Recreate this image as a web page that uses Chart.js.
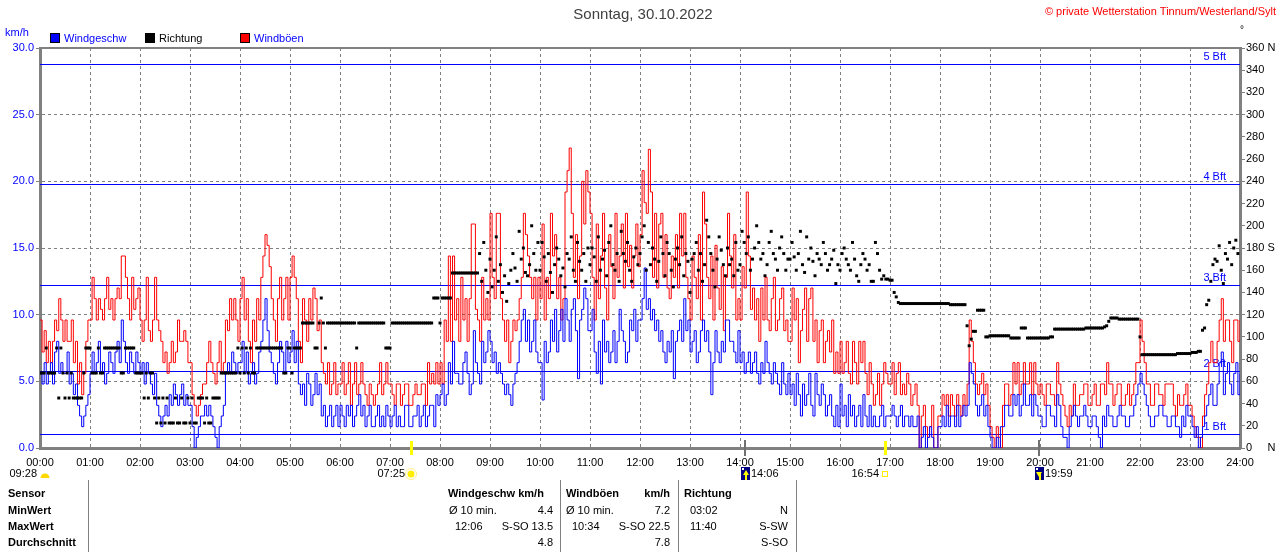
<!DOCTYPE html>
<html><head><meta charset="utf-8">
<script src="https://cdn.jsdelivr.net/npm/chart.js@4"></script>
<style>
html,body{margin:0;padding:0;background:#fff;}
#wrap{position:relative;width:1280px;height:552px;overflow:hidden;}
canvas{position:absolute;left:0;top:0;}
.t{position:absolute;font:11px 'Liberation Sans',Arial,sans-serif;color:#000;white-space:nowrap;line-height:13px;}
.b{font-weight:bold;}
.r{text-align:right;}
.vl{position:absolute;width:1px;background:#808080;top:480px;height:72px;}
</style></head><body>
<div id="wrap"><canvas id="c" width="1280" height="552"></canvas>
<div class="vl" style="left:88px"></div><div class="vl" style="left:560px"></div><div class="vl" style="left:678px"></div><div class="vl" style="left:796px"></div>
<div class="t b" style="left:8px;top:487px">Sensor</div>
<div class="t b" style="left:8px;top:504px">MinWert</div>
<div class="t b" style="left:8px;top:520px">MaxWert</div>
<div class="t b" style="left:8px;top:536px">Durchschnitt</div>
<div class="t b" style="left:448px;top:487px">Windgeschw km/h</div>
<div class="t" style="left:449px;top:504px">Ø 10 min.</div>
<div class="t r" style="left:503px;width:50px;top:504px">4.4</div>
<div class="t" style="left:455px;top:520px">12:06</div>
<div class="t r" style="left:483px;width:70px;top:520px">S-SO 13.5</div>
<div class="t r" style="left:503px;width:50px;top:536px">4.8</div>
<div class="t b" style="left:566px;top:487px">Windböen</div>
<div class="t b r" style="left:620px;width:50px;top:487px">km/h</div>
<div class="t" style="left:566px;top:504px">Ø 10 min.</div>
<div class="t r" style="left:620px;width:50px;top:504px">7.2</div>
<div class="t" style="left:572px;top:520px">10:34</div>
<div class="t r" style="left:600px;width:70px;top:520px">S-SO 22.5</div>
<div class="t r" style="left:620px;width:50px;top:536px">7.8</div>
<div class="t b" style="left:684px;top:487px">Richtung</div>
<div class="t" style="left:690px;top:504px">03:02</div>
<div class="t r" style="left:738px;width:50px;top:504px">N</div>
<div class="t" style="left:690px;top:520px">11:40</div>
<div class="t r" style="left:738px;width:50px;top:520px">S-SW</div>
<div class="t r" style="left:738px;width:50px;top:536px">S-SO</div>
</div>
<script>
// ---- data: 2.5-minute values, 00:00 .. 24:00 (one row per hour) ----
const gust = [
9.6,7.2,8.8,6.4,8.0,6.4,8.0,9.6,8.8,11.2,9.6,8.0,9.6,8.0,8.0,9.6,6.4,8.0,4.8,6.4,4.0,5.6,8.0,9.6,
9.6,12.8,11.2,9.6,11.2,10.4,9.6,11.2,12.8,10.4,11.2,9.6,11.2,12.0,11.2,14.4,14.4,12.8,11.2,9.6,12.8,10.4,11.2,12.0,
9.6,8.0,9.6,12.8,8.8,8.0,9.6,12.8,9.6,8.8,8.0,6.4,7.2,5.6,6.4,8.0,6.4,7.2,9.6,8.0,8.0,8.8,8.0,6.4,
6.4,4.0,3.2,2.4,3.2,4.0,4.8,4.8,6.4,8.0,6.4,5.6,4.8,6.4,8.0,5.6,6.4,9.6,8.8,11.2,9.6,11.2,9.6,8.0,
11.2,12.8,9.6,11.2,8.0,6.4,9.6,8.0,11.2,9.6,12.8,14.4,16.0,15.2,13.6,11.2,9.6,8.0,11.2,12.8,9.6,11.2,12.8,9.6,
12.8,14.4,12.8,11.2,8.0,6.4,11.2,9.6,8.0,11.2,9.6,12.0,11.2,8.8,9.6,6.4,5.6,4.8,6.4,4.0,4.8,6.4,4.0,4.8,
4.8,6.4,4.0,4.8,6.4,3.2,4.8,6.4,4.0,4.8,6.4,4.8,4.0,3.2,4.8,4.0,3.2,4.0,4.8,6.4,4.0,4.8,6.4,4.8,
4.8,4.0,3.2,4.8,4.8,3.2,4.0,4.8,4.8,3.2,3.2,4.0,4.8,4.0,4.0,4.8,4.8,3.2,6.4,4.8,5.6,4.8,6.4,4.8,
6.4,4.8,9.6,8.0,14.4,8.0,14.4,9.6,11.2,8.0,12.8,9.6,11.2,8.0,11.2,16.8,16.8,10.4,9.6,8.0,12.8,9.6,11.2,9.6,
17.6,12.8,11.2,17.6,17.6,11.2,9.6,8.0,9.6,6.4,8.0,9.6,8.8,9.6,11.2,12.8,17.6,16.0,14.4,12.8,11.2,12.8,9.6,12.8,
11.2,16.8,9.6,12.8,11.2,17.6,14.4,16.0,11.2,12.8,9.6,11.2,19.2,20.8,22.5,17.6,12.8,16.0,11.2,14.4,20.0,16.8,20.8,19.2,
17.6,12.8,9.6,16.8,11.2,14.4,17.6,12.0,9.6,16.0,13.6,11.2,17.6,12.8,14.4,16.8,12.0,17.6,13.6,15.2,12.0,14.4,16.8,13.6,
16.0,20.8,18.4,17.6,22.4,19.2,12.8,17.6,12.0,16.8,17.6,12.8,16.0,12.0,11.2,14.4,12.8,16.0,12.0,17.6,14.4,17.6,12.8,11.2,
9.6,14.4,12.8,11.2,16.0,9.6,19.2,16.8,12.8,11.2,14.4,9.6,15.2,12.0,10.4,13.6,8.8,12.8,17.6,14.4,12.0,16.0,9.6,11.2,
9.6,13.6,12.0,19.2,14.4,10.4,12.0,9.6,11.2,8.0,12.0,9.6,12.8,9.6,8.8,11.2,12.8,8.8,9.6,11.2,12.0,8.8,9.6,8.0,
8.0,12.0,9.6,11.2,6.4,8.8,10.4,12.0,8.0,11.2,12.0,8.0,9.6,6.4,8.8,9.6,6.4,8.0,8.8,7.2,9.6,5.6,7.2,5.6,
8.0,5.6,6.4,8.0,5.6,4.8,8.0,6.4,4.8,8.0,6.4,8.0,5.6,4.0,6.4,4.8,3.2,4.0,5.6,3.2,4.8,6.4,5.6,4.8,
4.8,6.4,4.0,5.6,6.4,4.0,4.8,4.0,5.6,4.8,3.2,4.0,4.8,3.2,0.0,2.4,3.2,1.6,0.8,1.6,3.2,0.0,0.0,2.4,
2.4,4.0,3.2,4.0,2.4,4.0,3.2,2.4,4.0,3.2,2.4,4.0,3.2,4.8,9.6,8.0,6.4,4.8,4.0,4.8,5.6,4.0,4.8,3.2,
1.6,0.8,0.0,1.6,0.8,0.0,3.2,4.8,4.8,3.2,4.0,6.4,4.8,6.4,4.0,4.8,6.4,4.8,4.8,6.4,4.0,6.4,4.8,4.0,
4.8,4.0,3.2,4.8,4.8,4.0,4.0,3.2,6.4,4.8,4.0,3.2,2.4,1.6,3.2,2.4,4.8,3.2,3.2,4.0,4.0,4.8,4.8,3.2,
3.2,4.0,4.8,3.2,3.2,4.8,4.8,4.0,6.4,4.8,4.8,3.2,4.0,4.8,4.8,3.2,3.2,4.0,4.8,3.2,4.0,4.8,6.4,6.4,
9.6,8.0,6.4,4.8,4.8,3.2,3.2,4.8,4.8,4.0,4.0,3.2,4.8,4.8,4.8,4.8,3.2,2.4,4.0,3.2,3.2,4.0,4.8,3.2,
3.2,2.4,1.6,0.8,0.8,0.0,2.4,4.0,4.8,6.4,8.0,6.4,6.4,8.0,9.6,11.2,8.0,9.6,9.6,8.0,6.4,9.6,9.6,8.0,
9.6];
const speed = [
5.6,4.8,6.4,4.8,5.6,6.4,4.8,7.2,8.0,5.6,6.4,5.6,5.6,7.2,4.8,5.6,4.0,4.8,3.2,2.4,1.6,2.4,3.2,4.0,
5.6,7.2,5.6,6.4,8.0,5.6,6.4,4.8,5.6,7.2,6.4,5.6,7.2,8.0,6.4,9.6,8.0,6.4,5.6,7.2,6.4,5.6,7.2,6.4,
5.6,6.4,4.8,6.4,5.6,4.8,4.0,5.6,3.2,2.4,1.6,2.4,3.2,2.4,4.0,3.2,4.8,4.0,3.2,4.0,4.8,3.2,4.0,3.2,
3.2,1.6,0.0,0.8,1.6,2.4,2.4,3.2,2.4,3.2,2.4,1.6,0.8,0.0,1.6,2.4,3.2,5.6,6.4,5.6,7.2,6.4,5.6,6.4,
6.4,8.0,5.6,7.2,4.8,5.6,6.4,4.8,5.6,7.2,8.0,9.6,11.2,8.8,7.2,6.4,5.6,4.8,6.4,8.0,7.2,5.6,8.0,6.4,
7.2,8.8,6.4,8.0,4.8,4.0,4.8,3.2,5.6,4.8,3.2,4.0,5.6,4.0,4.8,2.4,3.2,1.6,2.4,3.2,1.6,2.4,3.2,1.6,
3.2,2.4,1.6,3.2,2.4,3.2,1.6,2.4,3.2,4.0,2.4,3.2,1.6,2.4,3.2,1.6,1.6,2.4,3.2,1.6,2.4,1.6,3.2,2.4,
1.6,2.4,3.2,1.6,2.4,1.6,1.6,3.2,3.2,1.6,1.6,2.4,2.4,3.2,1.6,2.4,3.2,1.6,2.4,3.2,3.2,1.6,4.0,3.2,
4.0,4.8,3.2,4.0,6.4,4.8,8.0,5.6,5.6,4.8,4.8,6.4,7.2,5.6,4.0,4.8,8.8,6.4,5.6,4.8,8.0,6.4,7.2,8.8,
8.0,6.4,7.2,5.6,6.4,5.6,4.8,4.0,4.8,4.0,3.2,4.8,5.6,6.4,8.0,9.6,10.4,8.0,9.6,7.2,8.0,9.6,7.2,6.4,
6.4,3.6,8.0,6.4,7.2,9.6,8.0,10.4,7.2,8.8,10.4,8.0,11.2,9.6,8.0,10.4,11.2,8.8,5.2,9.6,10.4,12.0,11.2,8.8,
8.8,10.4,7.2,5.6,8.0,4.8,9.6,7.2,8.0,6.4,7.2,8.8,6.4,8.0,10.4,8.8,8.0,6.4,7.2,9.6,8.8,10.4,8.0,9.6,
9.6,11.2,13.5,10.4,11.2,9.6,10.4,8.8,9.6,8.0,8.8,7.2,6.4,8.0,7.2,8.8,5.2,8.0,8.8,9.6,8.0,11.2,8.8,9.6,
7.2,8.0,8.8,6.4,7.2,8.8,9.6,8.0,8.8,7.2,4.0,6.4,8.8,7.2,6.4,8.0,7.2,9.6,9.6,8.0,8.0,7.2,6.4,8.8,
6.4,7.2,5.6,6.4,7.2,5.6,6.4,7.2,5.6,4.8,6.4,5.6,8.0,6.4,5.6,4.8,6.4,5.6,4.8,4.0,6.4,4.8,4.0,5.6,
4.0,4.8,3.2,5.6,4.0,2.4,4.8,3.2,4.0,5.6,3.2,2.4,5.6,4.0,3.2,4.8,4.0,2.4,3.2,4.0,2.4,1.6,3.2,1.6,
4.8,2.4,3.2,1.6,4.0,2.4,3.2,1.6,2.4,3.2,1.6,4.0,2.4,1.6,3.2,1.6,2.4,1.6,1.6,2.4,3.2,1.6,2.4,2.4,
2.4,3.2,2.4,1.6,2.4,3.2,1.6,2.4,2.4,1.6,2.4,1.6,1.6,2.4,0.0,0.8,1.6,0.0,0.8,1.6,0.8,0.0,0.0,1.6,
1.6,2.4,1.6,3.2,1.6,2.4,2.4,1.6,3.2,1.6,2.4,3.2,2.4,3.2,6.4,5.6,4.8,3.2,2.4,3.2,4.0,2.4,3.2,1.6,
0.8,0.0,0.0,0.8,0.0,1.6,1.6,3.2,3.2,2.4,2.4,4.0,3.2,4.0,2.4,3.2,4.8,3.2,3.2,4.0,2.4,4.0,3.2,2.4,
2.4,1.6,1.6,3.2,3.2,2.4,2.4,1.6,4.0,3.2,1.6,0.8,0.8,0.0,1.6,2.4,3.2,2.4,1.6,2.4,2.4,3.2,2.4,1.6,
1.6,2.4,2.4,1.6,0.8,0.0,2.4,1.6,3.2,2.4,2.4,1.6,1.6,2.4,3.2,2.4,2.4,1.6,1.6,2.4,2.4,3.2,4.0,4.8,
5.6,4.8,4.0,3.2,2.4,1.6,1.6,2.4,2.4,3.2,3.2,2.4,2.4,1.6,1.6,2.4,2.4,1.6,1.6,0.8,2.4,1.6,3.2,2.4,
2.4,1.6,0.8,1.6,0.0,0.8,1.6,2.4,3.2,4.0,4.8,3.2,3.2,4.8,6.4,7.2,4.0,5.6,6.4,4.8,4.0,5.6,6.4,4.0,
5.6];
const direction = [
67.5,67.5,67.5,90,67.5,67.5,67.5,67.5,90,45,90,67.5,45,67.5,45,67.5,45,45,45,45,45,67.5,90,90,
90,67.5,67.5,67.5,90,67.5,67.5,90,90,90,90,90,90,90,90,67.5,67.5,90,90,90,90,90,67.5,67.5,
67.5,67.5,45,67.5,45,67.5,67.5,45,22.5,45,22.5,45,22.5,45,22.5,22.5,22.5,45,22.5,22.5,45,22.5,22.5,45,
22.5,45,22.5,22.5,45,45,45,22.5,45,22.5,22.5,45,45,45,45,67.5,67.5,67.5,67.5,67.5,67.5,67.5,67.5,90,
67.5,90,67.5,90,67.5,90,67.5,67.5,90,90,90,90,90,90,90,90,90,90,90,90,90,67.5,67.5,90,
90,67.5,90,90,90,90,112.5,112.5,112.5,112.5,112.5,112.5,90,90,112.5,135,112.5,90,112.5,112.5,112.5,112.5,112.5,112.5,
112.5,112.5,112.5,112.5,112.5,112.5,112.5,112.5,90,112.5,112.5,112.5,112.5,112.5,112.5,112.5,112.5,112.5,112.5,112.5,112.5,112.5,90,90,
90,112.5,112.5,112.5,112.5,112.5,112.5,112.5,112.5,112.5,112.5,112.5,112.5,112.5,112.5,112.5,112.5,112.5,112.5,112.5,112.5,135,135,135,
112.5,135,135,135,135,135,157.5,157.5,157.5,157.5,157.5,157.5,157.5,157.5,157.5,157.5,157.5,157.5,157.5,175,150,185,160,140,
170,145,160,190,150,165,140,155,132,148,160,175,162,150,195,170,180,158,155,165,200,175,160,185,
160,185,172,150,175,158,140,165,180,170,155,162,145,175,170,190,160,150,185,168,160,175,150,180,
165,180,172,150,190,160,170,178,155,185,200,165,160,175,150,195,175,168,185,160,150,172,180,165,
175,190,200,160,185,165,180,170,150,168,190,175,155,185,175,160,145,170,180,165,190,155,175,168,
140,170,175,185,160,175,150,165,205,190,175,160,145,170,190,178,165,155,180,165,170,155,185,160,
165,195,185,175,190,160,170,180,200,185,170,175,155,165,185,195,175,170,160,180,190,175,160,170,
170,185,172,160,175,195,165,158,190,170,180,168,155,175,170,165,185,175,160,165,170,178,148,165,
160,175,180,170,165,160,185,170,155,150,165,175,170,160,165,150,150,185,175,160,152,155,152,152,
151,151,140,136,131,130,130,130,130,130,130,130,130,130,130,130,130,130,130,130,130,130,130,130,
130,130,130,130,130,129,129,129,129,129,129,129,129,110,92,98,105,105,124,124,124,124,100,100,
101,101,101,101,101,101,101,101,101,101,99,99,99,99,99,108,108,108,99,99,99,99,99,99,
99,99,99,99,99,100,100,107,107,107,107,107,107,107,107,107,107,107,107,107,107,107,108,108,
108,108,108,108,108,108,108,109,110,114,117,117,117,117,116,116,116,116,116,116,116,116,116,116,
100,84,84,84,84,84,84,84,84,84,84,84,84,84,84,84,84,84,85,85,85,85,85,85,
85,86,86,86,87,87,106,108,129,133,150,165,170,168,182,160,148,175,170,185,165,180,187,175,
null];
const minutes = gust.map((_, i) => i * 2.5);
const hourTicks = ['00:00','01:00','02:00','03:00','04:00','05:00','06:00','07:00','08:00','09:00','10:00','11:00','12:00',
  '13:00','14:00','15:00','16:00','17:00','18:00','19:00','20:00','21:00','22:00','23:00','24:00'];
const bftLevels = [1.08, 5.76, 12.24, 19.8, 28.8];
const bftNames = ['1 Bft','2 Bft','3 Bft','4 Bft','5 Bft'];
const dirLabels = {360:'360 N', 180:'180 S', 0:'0     N'};
const astroTimes = [0, 445, 846, 1014, 1199];
const astroLabels = ['09:28','07:25','14:06','16:54','19:59'];
const astroKinds = ['moonTop','sunrise','moonrise','sunset','moonset'];

const FONT = "'Liberation Sans', Arial, sans-serif";

const overlay = {
  id: 'overlay',
  beforeDatasetsDraw(chart) {
    const {ctx, chartArea: a, scales: {y}} = chart;
    ctx.save();
    ctx.strokeStyle = '#0000ff'; ctx.lineWidth = 1;
    ctx.fillStyle = '#0000ff'; ctx.font = '11px ' + FONT;
    ctx.textAlign = 'right'; ctx.textBaseline = 'bottom';
    bftLevels.forEach((v, i) => {
      const py = Math.round(y.getPixelForValue(v)) + 0.5;
      ctx.beginPath(); ctx.moveTo(a.left, py); ctx.lineTo(a.right, py); ctx.stroke();
      ctx.fillText(bftNames[i], a.right - 14, py - 2);
    });
    ctx.restore();
  },
  afterDraw(chart) {
    const {ctx, chartArea: a, scales: {x}} = chart;
    ctx.save();
    ctx.strokeStyle = '#808080'; ctx.lineWidth = 2;
    ctx.beginPath(); ctx.moveTo(a.left, a.top); ctx.lineTo(a.right + 1, a.top); ctx.stroke();
    ctx.textBaseline = 'middle';
    ctx.fillStyle = '#404040'; ctx.font = '15px ' + FONT; ctx.textAlign = 'center';
    ctx.fillText('Sonntag, 30.10.2022', 643, 15);
    ctx.fillStyle = '#ff0000'; ctx.font = '11px ' + FONT; ctx.textAlign = 'right';
    ctx.fillText('© private Wetterstation Tinnum/Westerland/Sylt', 1276, 12);
    ctx.fillStyle = '#000'; ctx.textAlign = 'left'; ctx.font = '10px ' + FONT;
    ctx.fillText('°', 1240, 30);
    ctx.fillStyle = '#0000ff'; ctx.font = '11px ' + FONT;
    ctx.fillText('km/h', 5, 33);
    const items = [[50, '#0000ff', 'Windgeschw', '#0000ff'], [145, '#000000', 'Richtung', '#000'], [240, '#ff0000', 'Windböen', '#0000ff']];
    items.forEach(([lx, col, txt, tcol]) => {
      ctx.fillStyle = col; ctx.fillRect(lx, 33, 10, 10);
      ctx.strokeStyle = '#000'; ctx.lineWidth = 1; ctx.strokeRect(lx + 0.5, 33.5, 9, 9);
      ctx.fillStyle = tcol; ctx.fillText(txt, lx + 14, 38.5);
    });
    ctx.font = '11px ' + FONT;
    astroTimes.forEach((t, i) => {
      const px = Math.round(x.getPixelForValue(t));
      const kind = astroKinds[i], lab = astroLabels[i];
      ctx.fillStyle = '#000';
      if (kind === 'moonTop') {
        ctx.textAlign = 'right'; ctx.fillText(lab, px - 3, 474);
        ctx.fillStyle = '#ffd800';
        ctx.beginPath(); ctx.arc(px + 5, 478, 4.5, Math.PI, 0); ctx.closePath(); ctx.fill();
      } else if (kind === 'sunrise' || kind === 'sunset') {
        ctx.fillStyle = '#ffff00'; ctx.fillRect(px - 1, 441, 3, 14);
        ctx.fillStyle = '#000'; ctx.textAlign = 'right'; ctx.fillText(lab, px - 6, 474);
        if (kind === 'sunrise') {
          ctx.fillStyle = '#ffee00';
          ctx.beginPath(); ctx.arc(px, 474, 3.5, 0, Math.PI * 2); ctx.fill();
          ctx.strokeStyle = '#ffee88'; ctx.lineWidth = 1;
          ctx.beginPath(); ctx.arc(px, 474, 5.5, 0, Math.PI * 2); ctx.stroke();
        } else {
          ctx.strokeStyle = '#ffee00'; ctx.lineWidth = 1; ctx.strokeRect(px - 2.5, 471.5, 5, 5);
        }
      } else {
        ctx.fillStyle = '#707070'; ctx.fillRect(px - 1, 440, 2, 16);
        ctx.fillStyle = '#000080'; ctx.fillRect(px - 4, 467, 9, 13);
        ctx.fillStyle = '#ffff00';
        ctx.beginPath();
        if (kind === 'moonrise') { ctx.moveTo(px + 1, 470); ctx.lineTo(px + 4, 475); ctx.lineTo(px - 2, 475); }
        else { ctx.moveTo(px, 477); ctx.lineTo(px + 3, 472); ctx.lineTo(px - 3, 472); }
        ctx.closePath(); ctx.fill();
        ctx.fillRect(px, 474, 2, 6);
        ctx.fillStyle = '#ffffff'; ctx.fillRect(px - 3, 468, 2, 2);
        ctx.fillStyle = '#000'; ctx.textAlign = 'left'; ctx.fillText(lab, px + 6, 474);
      }
    });
    ctx.restore();
  }
};

Chart.defaults.font.family = FONT;
Chart.defaults.font.size = 11;

new Chart(document.getElementById('c'), {
  type: 'line',
  data: {
    labels: minutes,
    datasets: [
      {label: 'Richtung', data: direction, yAxisID: 'y2', showLine: false, order: 0,
       pointStyle: 'rect', pointRadius: 2.1, pointBorderWidth: 0, pointBorderColor: '#000', pointBackgroundColor: '#000'},
      {label: 'Windgeschw', data: speed, yAxisID: 'y', borderColor: '#0000ff', borderWidth: 1,
       pointRadius: 0, stepped: true, order: 1},
      {label: 'Windböen', data: gust, yAxisID: 'y', borderColor: '#ff0000', borderWidth: 1,
       pointRadius: 0, stepped: true, order: 2}
    ]
  },
  options: {
    responsive: false, animation: false, devicePixelRatio: 1, events: [],
    layout: {padding: {top: 48, left: 0, right: 0, bottom: 0}},
    plugins: {legend: {display: false}, title: {display: false}, tooltip: {enabled: false}},
    scales: {
      x: {
        type: 'linear', min: 0, max: 1440,
        afterFit: s => { s.height = 104; },
        ticks: {stepSize: 60, autoSkip: false, maxRotation: 0, color: '#000', padding: 4,
                callback: v => hourTicks[v / 60]},
        grid: {color: '#808080', lineWidth: 1, tickLength: 4, tickColor: 'rgba(0,0,0,0)', tickBorderDash: []},
        border: {display: true, color: '#808080', width: 3, dash: [3, 3]}
      },
      y: {
        position: 'left', min: 0, max: 30,
        afterFit: s => { s.width = 40; },
        ticks: {stepSize: 5, color: '#0000ff', padding: 2, callback: v => v.toFixed(1)},
        grid: {color: '#808080', lineWidth: 1, tickLength: 4, tickColor: '#808080', tickBorderDash: []},
        border: {display: true, color: '#808080', width: 3, dash: [3, 3]}
      },
      y2: {
        position: 'right', min: 0, max: 360,
        afterFit: s => { s.width = 40; },
        ticks: {stepSize: 20, color: '#000', padding: 1, callback: v => dirLabels[v] || String(v)},
        grid: {drawOnChartArea: false, tickLength: 5, tickColor: '#808080'},
        border: {display: true, color: '#808080', width: 3}
      }
    }
  },
  plugins: [overlay]
});
</script>
</body></html>
